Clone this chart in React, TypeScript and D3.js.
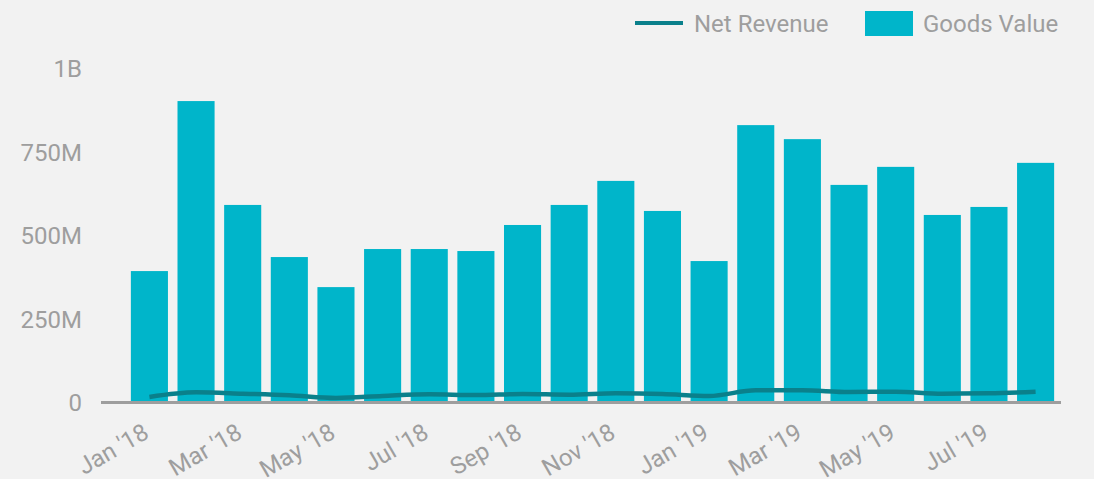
import React, { useEffect, useRef } from 'react';
import * as d3 from 'd3';

const months = [
    "Jan '18", "Feb '18", "Mar '18", "Apr '18", "May '18", "Jun '18", "Jul '18", "Aug '18",
    "Sep '18", "Oct '18", "Nov '18", "Dec '18", "Jan '19", "Feb '19", "Mar '19", "Apr '19",
    "May '19", "Jun '19", "Jul '19", "Aug '19"
];
// Goods Value (millions)
const goodsValue = [389, 898, 587, 431, 341, 455, 455, 449, 527, 587, 659, 569, 419, 826, 784, 647, 701, 557, 581, 713];
// Net Revenue (millions)
const netRevenue = [12, 26, 22, 17, 9, 15, 20, 18, 21, 19, 23, 21, 15, 32, 32, 27, 28, 22, 23, 28];
const yTicks = [0, 250, 500, 750, 1000];
const yTickLabels = ["0", "250M", "500M", "750M", "1B"];
const xTickLabels = ["Jan '18", "Mar '18", "May '18", "Jul '18", "Sep '18", "Nov '18", "Jan '19", "Mar '19", "May '19", "Jul '19"];

const W = 1094;
const H = 479;
const FONT = 'Roboto, sans-serif';
const GREY = '#9e9e9e';
const BAR = '#00b5ca';
const LINE = '#0a808b';

export default function App() {
    const ref = useRef<SVGSVGElement>(null);

    useEffect(() => {
        const svg = d3.select(ref.current);
        svg.selectAll('*').remove();

        svg.append('rect').attr('width', W).attr('height', H).attr('fill', '#f2f2f2');

        const x = d3.scaleBand<string>()
            .domain(months)
            .range([126.2, 1058.8])
            .paddingInner(0.205)
            .paddingOuter(0.1);

        const y = d3.scaleLinear().domain([0, 1000]).range([401, 67]);

        // y labels
        svg.append('g')
            .selectAll('text')
            .data(yTicks)
            .enter()
            .append('text')
            .attr('x', 82)
            .attr('y', d => y(d) + 10.3)
            .attr('text-anchor', 'end')
            .attr('font-family', FONT)
            .attr('font-size', 24)
            .attr('fill', GREY)
            .text((d, i) => yTickLabels[i]);

        // bars
        svg.append('g')
            .selectAll('rect')
            .data(goodsValue)
            .enter()
            .append('rect')
            .attr('x', (d, i) => x(months[i]) as number)
            .attr('y', d => y(d))
            .attr('width', x.bandwidth())
            .attr('height', d => y(0) - y(d))
            .attr('fill', BAR);

        // x axis line
        svg.append('line')
            .attr('x1', 101).attr('x2', 1061)
            .attr('y1', 402.5).attr('y2', 402.5)
            .attr('stroke', GREY)
            .attr('stroke-width', 3);

        // net revenue line
        const line = d3.line<number>()
            .x((d, i) => (x(months[i]) as number) + x.bandwidth() / 2)
            .y(d => y(d))
            .curve(d3.curveMonotoneX);

        svg.append('path')
            .datum(netRevenue)
            .attr('d', line)
            .attr('fill', 'none')
            .attr('stroke', LINE)
            .attr('stroke-width', 4.5)
            .attr('stroke-linejoin', 'round');

        // x labels
        svg.append('g')
            .selectAll('text')
            .data(xTickLabels)
            .enter()
            .append('text')
            .attr('transform', d => 'translate(' + ((x(d) as number) + x.bandwidth() / 2 + 1) + ',437) rotate(-30)')
            .attr('text-anchor', 'end')
            .attr('font-family', FONT)
            .attr('font-size', 24)
            .attr('fill', GREY)
            .text(d => d);

        // legend
        const legend = svg.append('g');
        legend.append('line')
            .attr('x1', 635).attr('x2', 683)
            .attr('y1', 23).attr('y2', 23)
            .attr('stroke', LINE)
            .attr('stroke-width', 4);
        legend.append('text')
            .attr('x', 694).attr('y', 32)
            .attr('font-family', FONT).attr('font-size', 24).attr('fill', GREY)
            .text('Net Revenue');
        legend.append('rect')
            .attr('x', 865).attr('y', 11)
            .attr('width', 48).attr('height', 25)
            .attr('fill', BAR);
        legend.append('text')
            .attr('x', 923).attr('y', 32)
            .attr('font-family', FONT).attr('font-size', 24).attr('fill', GREY)
            .text('Goods Value');
    }, []);

    return (
        <div style={{ position: 'absolute', left: 0, top: 0 }}>
            <svg ref={ref} width={W} height={H} style={{ display: 'block' }}></svg>
        </div>
    );
}
